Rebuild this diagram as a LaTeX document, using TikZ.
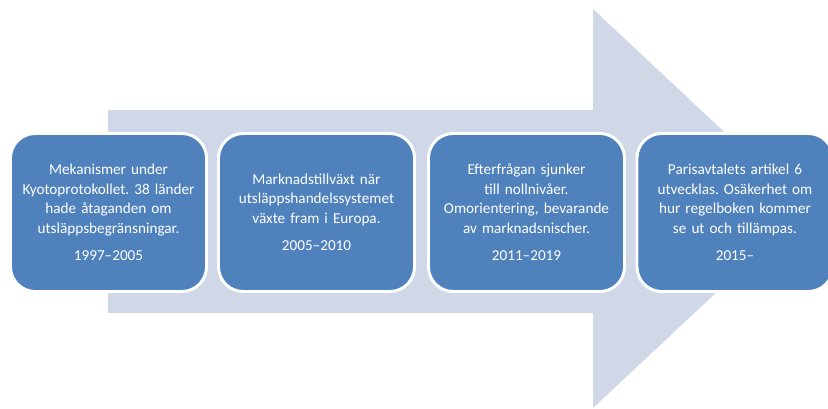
\documentclass[tikz,border=0pt]{standalone}
\usepackage{fontspec}
\setmainfont{Carlito}
\frenchspacing
\definecolor{arrowfill}{HTML}{D0D8E8}
\definecolor{boxfill}{HTML}{4F81BD}
\begin{document}
\begin{tikzpicture}[x=0.75pt,y=-0.75pt,
  stagebox/.style={draw=white, line width=2.2pt, fill=boxfill, rounded corners=18.5pt,
    minimum width=147pt, minimum height=118.5pt, text width=145pt, align=center,
    text=white, font=\fontsize{11.4pt}{14.6pt}\selectfont, inner sep=0pt},
  arrowshape/.style={fill=arrowfill, draw=none}]
\clip (0,0) rectangle (828,409);
\useasboundingbox (0,0) rectangle (828,409);
\fill[arrowshape] (108,110) -- (593,110) -- (593,9) -- (806,208.5) -- (593,408) -- (593,313) -- (108,313) -- cycle;
\node[stagebox] (s1) at (108.5,212.5) {Mekanismer under\\Kyotoprotokollet. 38 länder\\hade åtaganden om\\utsläppsbegränsningar.\\[6pt]1997–2005};
\node[stagebox] (s2) at (316.5,212.5) {Marknadstillväxt när\\utsläppshandelssystemet\\växte fram i Europa.\\[6pt]2005–2010};
\node[stagebox] (s3) at (526.5,212.5) {Efterfrågan sjunker\\till nollnivåer.\\Omorientering, bevarande\\av marknadsnischer.\\[6pt]2011–2019};
\node[stagebox] (s4) at (735,212.5) {Parisavtalets artikel 6\\utvecklas. Osäkerhet om\\hur regelboken kommer\\se ut och tillämpas.\\[6pt]2015–};
\end{tikzpicture}
\end{document}
